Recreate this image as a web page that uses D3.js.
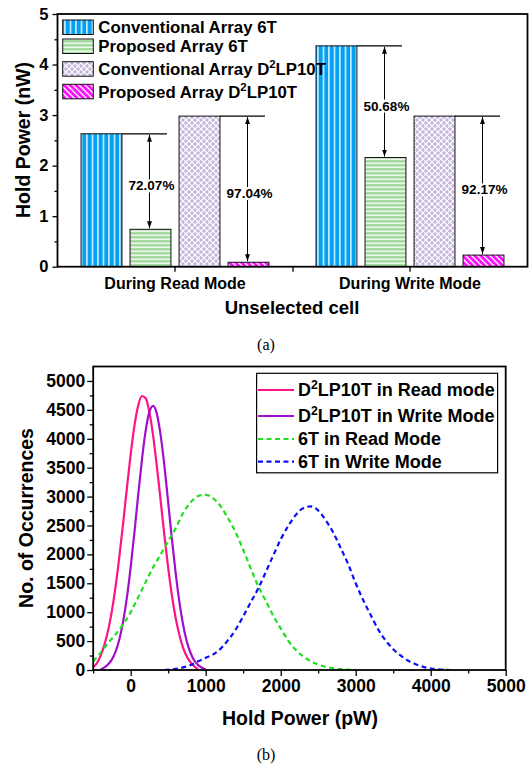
<!DOCTYPE html>
<html>
<head>
<meta charset="utf-8">
<script src="https://cdn.jsdelivr.net/npm/d3@7"></script>
<style>
body { margin: 0; background: #fff; }
svg { display: block; font-family: "Liberation Sans", Arial, sans-serif; }
</style>
</head>
<body>
<script>
// ---- panel (a): hold power bars ----
var categories = ["During Read Mode", "During Write Mode"];
var barSeries = ["Conventional Array 6T", "Proposed Array 6T", "Conventional Array D2LP10T", "Proposed Array D2LP10T"];
var readValues = [2.63, 0.74, 2.98, 0.088];
var writeValues = [4.37, 2.16, 2.98, 0.23];
var readDrops = ["72.07%", "97.04%"];
var writeDrops = ["50.68%", "92.17%"];
var yTicksA = [0, 1, 2, 3, 4, 5];

// ---- panel (b): distributions, [hold power pW, occurrences] ----
var seriesB = ["D2LP10T in Read mode", "D2LP10T in Write Mode", "6T in Read Mode", "6T in Write Mode"];
var d2ReadCurve = [[-500, 50], [-450, 120], [-400, 250], [-350, 440], [-300, 690], [-250, 1030], [-200, 1460],
    [-150, 1975], [-100, 2550], [-50, 3155], [0, 3735], [50, 4225], [100, 4575], [150, 4740], [200, 4700],
    [250, 4455], [300, 4045], [350, 3510], [400, 2920], [450, 2320], [500, 1765], [550, 1285], [600, 895],
    [650, 600], [700, 380], [750, 230], [800, 130], [850, 60], [900, 15]];
var d2WriteCurve = [[-400, 10], [-350, 45], [-300, 99], [-250, 184], [-200, 323], [-150, 537], [-100, 845],
    [-50, 1260], [0, 1785], [50, 2385], [100, 3030], [150, 3640], [200, 4145], [250, 4470], [300, 4570],
    [350, 4425], [400, 4055], [450, 3525], [500, 2900], [550, 2260], [600, 1670], [650, 1170], [700, 775],
    [750, 485], [800, 290], [850, 160], [900, 85], [950, 40], [1000, 10]];
var t6ReadCurve = [[-500, 150], [-400, 300], [-300, 470], [-200, 620], [-100, 790], [0, 1000], [100, 1260],
    [200, 1520], [300, 1780], [400, 2000], [500, 2230], [600, 2450], [700, 2720], [800, 2900], [900, 3010],
    [1000, 3030], [1100, 2970], [1200, 2830], [1300, 2620], [1400, 2380], [1500, 2080], [1600, 1760],
    [1700, 1450], [1800, 1200], [1900, 940], [2000, 720], [2100, 510], [2200, 350], [2300, 235], [2400, 150],
    [2500, 95], [2600, 55], [2700, 32], [2800, 15], [2900, 5], [3000, 0]];
var t6WriteCurve = [[450, 0], [500, 5], [600, 20], [700, 45], [800, 85], [900, 150], [1000, 210], [1100, 270],
    [1200, 370], [1300, 520], [1400, 700], [1500, 930], [1600, 1170], [1700, 1410], [1800, 1690], [1900, 1980],
    [2000, 2260], [2100, 2490], [2200, 2680], [2300, 2800], [2400, 2830], [2500, 2760], [2600, 2590],
    [2700, 2380], [2800, 2110], [2900, 1830], [3000, 1500], [3100, 1210], [3200, 950], [3300, 700],
    [3400, 510], [3500, 360], [3600, 250], [3700, 160], [3800, 100], [3900, 55], [4000, 25], [4100, 10],
    [4200, 3], [4250, 0]];
var xTicksB = [0, 1000, 2000, 3000, 4000, 5000];
var yTicksB = [0, 500, 1000, 1500, 2000, 2500, 3000, 3500, 4000, 4500, 5000];

var W = 532, H = 764;
var svg = d3.select("body").append("svg").attr("width", W).attr("height", H);
svg.append("rect").attr("width", W).attr("height", H).attr("fill", "#fff");
var defs = svg.append("defs");

// text with a superscript 2 in "D2LP10T"
function richText(sel, str, fs) {
    var i = str.indexOf("D2L");
    if (i < 0) { sel.text(str); return; }
    sel.append("tspan").text(str.slice(0, i + 1));
    sel.append("tspan").attr("dy", -fs * 0.4).attr("font-size", fs * 0.68).text("2");
    sel.append("tspan").attr("dy", fs * 0.4).text(str.slice(i + 2));
}

// bar fill patterns
var barColors = ["#06a0f2", "#a6dba0", "#c6b6dc", "#ff10ff"];
var p0 = defs.append("pattern").attr("id", "pat0").attr("patternUnits", "userSpaceOnUse")
    .attr("width", 5.5).attr("height", 10);
p0.append("rect").attr("width", 5.5).attr("height", 10).attr("fill", barColors[0]);
p0.append("rect").attr("x", 3.8).attr("width", 1.3).attr("height", 10).attr("fill", "#fff");

var p1 = defs.append("pattern").attr("id", "pat1").attr("patternUnits", "userSpaceOnUse")
    .attr("width", 10).attr("height", 4);
p1.append("rect").attr("width", 10).attr("height", 4).attr("fill", barColors[1]);
p1.append("rect").attr("y", 2.6).attr("width", 10).attr("height", 1.2).attr("fill", "#fff");

var p2 = defs.append("pattern").attr("id", "pat2").attr("patternUnits", "userSpaceOnUse")
    .attr("width", 6).attr("height", 6);
p2.append("rect").attr("width", 6).attr("height", 6).attr("fill", barColors[2]);
p2.append("path").attr("d", "M-1,-1L7,7M7,-1L-1,7").attr("stroke", "#fff").attr("stroke-width", 1.2);

var p3 = defs.append("pattern").attr("id", "pat3").attr("patternUnits", "userSpaceOnUse")
    .attr("width", 6).attr("height", 6);
p3.append("rect").attr("width", 6).attr("height", 6).attr("fill", barColors[3]);
p3.append("path").attr("d", "M-1,-1L7,7M-1,5L1,7M5,-1L7,1").attr("stroke", "#fff").attr("stroke-width", 1.3);

defs.append("marker").attr("id", "arr").attr("viewBox", "0 0 10 10")
    .attr("refX", 10).attr("refY", 5).attr("markerWidth", 7).attr("markerHeight", 7)
    .attr("orient", "auto-start-reverse")
    .append("path").attr("d", "M0,1.5L10,5L0,8.5Z").attr("fill", "#000");

// ================= panel (a) =================
var aL = 57.5, aR = 527.5, aT = 14, aB = 266.7;
var x0 = d3.scaleBand().domain(categories).range([aL, aR]);
var x1 = d3.scaleBand().domain(barSeries).range([0, x0.bandwidth()]).paddingInner(0.165).paddingOuter(0.48);
var yA = d3.scaleLinear().domain([0, 5]).range([aB, aT]);

var groups = [
    {cat: categories[0], vals: readValues, drops: readDrops},
    {cat: categories[1], vals: writeValues, drops: writeDrops}
];

var gA = svg.append("g");
groups.forEach(function(g) {
    gA.selectAll(null).data(g.vals).enter().append("rect")
        .attr("x", function(d, i) { return x0(g.cat) + x1(barSeries[i]); })
        .attr("y", function(d) { return yA(d); })
        .attr("width", x1.bandwidth())
        .attr("height", function(d) { return aB - yA(d); })
        .attr("fill", function(d, i) { return "url(#pat" + i + ")"; })
        .attr("stroke", "#111").attr("stroke-width", 1);

    // reduction annotations: bar 0 -> 1 and bar 2 -> 3
    [[0, 1], [2, 3]].forEach(function(pr, k) {
        var from = g.vals[pr[0]], to = g.vals[pr[1]];
        var xs = x0(g.cat) + x1(barSeries[pr[0]]) + x1.bandwidth();
        var xt = x0(g.cat) + x1(barSeries[pr[1]]);
        gA.append("line").attr("x1", xs).attr("x2", xt + x1.bandwidth() - 4)
            .attr("y1", yA(from)).attr("y2", yA(from)).attr("stroke", "#000").attr("stroke-width", 1.2);
        var ax = xt + x1.bandwidth() / 2 - 1;
        gA.append("line").attr("x1", ax).attr("x2", ax)
            .attr("y1", yA(from) + 1).attr("y2", yA(to) - 1)
            .attr("stroke", "#000").attr("stroke-width", 1)
            .attr("marker-start", "url(#arr)").attr("marker-end", "url(#arr)");
        var ly = (yA(from) + yA(to)) / 2 + 4;
        var t = gA.append("text").attr("x", ax + 2).attr("y", ly).attr("dy", "0.36em")
            .attr("text-anchor", "middle").attr("font-size", 13.5).attr("font-weight", "bold")
            .text(g.drops[k]);
        var bb = t.node().getBBox();
        gA.insert("rect", function() { return t.node(); })
            .attr("x", bb.x - 1).attr("y", bb.y + 1).attr("width", bb.width + 2).attr("height", bb.height - 2)
            .attr("fill", "#fff");
    });
});

// axes (a)
var yAxA = svg.append("g").attr("transform", "translate(" + aL + ",0)")
    .call(d3.axisLeft(yA).tickValues(yTicksA).tickSize(5).tickPadding(4).tickFormat(d3.format("d")));
svg.append("g").attr("transform", "translate(" + aL + ",0)")
    .call(d3.axisLeft(yA).tickValues([0.5, 1.5, 2.5, 3.5, 4.5]).tickSize(3).tickFormat(""));
var xAxA = svg.append("g").attr("transform", "translate(0," + aB + ")")
    .call(d3.axisBottom(x0).tickSize(5).tickPadding(6));
svg.append("g").attr("transform", "translate(0," + aB + ")")
    .call(d3.axisBottom(d3.scaleLinear().domain([0, 2]).range([aL, aR])).tickValues([1]).tickSize(5).tickFormat(""));
svg.selectAll(".domain").remove();
yAxA.selectAll("text").attr("font-size", 16.5).attr("font-weight", "bold").attr("fill", "#000");
xAxA.selectAll("text").attr("font-size", 16).attr("font-weight", "bold").attr("fill", "#000");
svg.selectAll(".tick line").attr("stroke", "#000").attr("stroke-width", 1.3);
svg.append("rect").attr("x", aL).attr("y", aT).attr("width", aR - aL).attr("height", aB - aT)
    .attr("fill", "none").attr("stroke", "#000").attr("stroke-width", 1.8);

svg.append("text").attr("transform", "translate(23,140) rotate(-90)").attr("text-anchor", "middle")
    .attr("dy", "0.36em").attr("font-size", 19.5).attr("font-weight", "bold").text("Hold Power (nW)");
svg.append("text").attr("x", 292).attr("y", 314).attr("text-anchor", "middle")
    .attr("font-size", 18.5).attr("font-weight", "bold").text("Unselected cell");

// legend (a)
var legAY = [20, 39, 61.7, 84.3];
var legA = svg.append("g");
barSeries.forEach(function(s, i) {
    legA.append("rect").attr("x", 62.7).attr("y", legAY[i]).attr("width", 30.6).attr("height", 14.5)
        .attr("fill", "url(#pat" + i + ")").attr("stroke", "#111").attr("stroke-width", 1);
    var t = legA.append("text").attr("x", 98.3).attr("y", legAY[i] + 7.3).attr("dy", "0.36em")
        .attr("font-size", 16.8).attr("font-weight", "bold");
    richText(t, s, 16.8);
});

svg.append("text").attr("x", 266).attr("y", 350).attr("text-anchor", "middle")
    .attr("font-family", "'Liberation Serif', 'Times New Roman', serif").attr("font-size", 16).text("(a)");

// ================= panel (b) =================
var bL = 93.2, bR = 505.7, bT = 366.5, bB = 670;
var xB = d3.scaleLinear().domain([-500, 5000]).range([bL, bR]);
var yB = d3.scaleLinear().domain([0, 5250]).range([bB, bT]);

defs.append("clipPath").attr("id", "clipB").append("rect")
    .attr("x", bL).attr("y", bT).attr("width", bR - bL).attr("height", bB - bT);

var lineStyles = [
    {color: "#ff1285", dash: null},
    {color: "#a010cc", dash: null},
    {color: "#1fe01f", dash: "5,3.5"},
    {color: "#0a10f5", dash: "5,3.5"}
];
var curves = [d2ReadCurve, d2WriteCurve, t6ReadCurve, t6WriteCurve];
var line = d3.line().x(function(d) { return xB(d[0]); }).y(function(d) { return yB(d[1]); })
    .curve(d3.curveMonotoneX);

var gB = svg.append("g").attr("clip-path", "url(#clipB)");
gB.selectAll("path").data(curves).enter().append("path")
    .attr("d", line)
    .attr("fill", "none")
    .attr("stroke", function(d, i) { return lineStyles[i].color; })
    .attr("stroke-width", 2.2)
    .attr("stroke-dasharray", function(d, i) { return lineStyles[i].dash; });

var xAxB = svg.append("g").attr("transform", "translate(0," + bB + ")")
    .call(d3.axisBottom(xB).tickValues(xTicksB).tickSize(6).tickPadding(4).tickFormat(d3.format("d")));
svg.append("g").attr("transform", "translate(0," + bB + ")")
    .call(d3.axisBottom(xB).tickValues([-500, 500, 1500, 2500, 3500, 4500]).tickSize(3.5).tickFormat(""));
var yAxB = svg.append("g").attr("transform", "translate(" + bL + ",0)")
    .call(d3.axisLeft(yB).tickValues(yTicksB).tickSize(6).tickPadding(2).tickFormat(d3.format("d")));
svg.append("g").attr("transform", "translate(" + bL + ",0)")
    .call(d3.axisLeft(yB).tickValues(d3.range(250, 5250, 500)).tickSize(3.5).tickFormat(""));
svg.selectAll(".domain").remove();
xAxB.selectAll("text").attr("font-size", 17.5).attr("font-weight", "bold").attr("fill", "#000");
yAxB.selectAll("text").attr("font-size", 17.5).attr("font-weight", "bold").attr("fill", "#000");
svg.selectAll(".tick line").attr("stroke", "#000").attr("stroke-width", 1.3);
svg.append("rect").attr("x", bL).attr("y", bT).attr("width", bR - bL).attr("height", bB - bT)
    .attr("fill", "none").attr("stroke", "#000").attr("stroke-width", 1.8);

svg.append("text").attr("transform", "translate(26,518) rotate(-90)").attr("text-anchor", "middle")
    .attr("dy", "0.36em").attr("font-size", 19.5).attr("font-weight", "bold").text("No. of Occurrences");
svg.append("text").attr("x", 300).attr("y", 725).attr("text-anchor", "middle")
    .attr("font-size", 19.5).attr("font-weight", "bold").text("Hold Power (pW)");

// legend (b)
var legB = svg.append("g");
legB.append("rect").attr("x", 256.6).attr("y", 373.3).attr("width", 241).attr("height", 99.5)
    .attr("fill", "#fff").attr("stroke", "#000").attr("stroke-width", 1.2);
var legBY = [390, 416, 439, 461.7];
seriesB.forEach(function(s, i) {
    legB.append("line").attr("x1", 258).attr("x2", 294).attr("y1", legBY[i]).attr("y2", legBY[i])
        .attr("stroke", lineStyles[i].color).attr("stroke-width", 2.2)
        .attr("stroke-dasharray", lineStyles[i].dash);
    var t = legB.append("text").attr("x", 298).attr("y", legBY[i]).attr("dy", "0.36em")
        .attr("font-size", 18).attr("font-weight", "bold");
    richText(t, s, 18);
});

svg.append("text").attr("x", 266).attr("y", 760).attr("text-anchor", "middle")
    .attr("font-family", "'Liberation Serif', 'Times New Roman', serif").attr("font-size", 16).text("(b)");
</script>
</body>
</html>
